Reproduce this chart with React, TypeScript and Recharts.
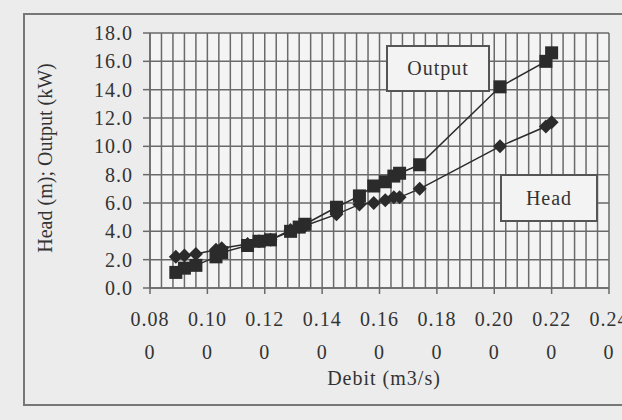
import { CartesianGrid, Line, LineChart, XAxis, YAxis } from 'recharts'

// debit (m3/s), head (m) and output (kW) at each debit
const debit = [0.089, 0.092, 0.096, 0.103, 0.105, 0.114, 0.118, 0.122, 0.129, 0.132, 0.134, 0.145, 0.153, 0.158, 0.162, 0.165, 0.167, 0.174, 0.202, 0.218, 0.22]
const output = [1.1, 1.4, 1.6, 2.2, 2.5, 3.0, 3.3, 3.4, 4.0, 4.3, 4.5, 5.7, 6.5, 7.2, 7.5, 7.9, 8.1, 8.7, 14.2, 16.0, 16.6]
const head = [2.2, 2.3, 2.4, 2.7, 2.8, 3.1, 3.3, 3.4, 4.1, 4.3, 4.4, 5.2, 5.9, 6.0, 6.2, 6.4, 6.4, 7.0, 10.0, 11.4, 11.7]

const xMajor = [0.08, 0.1, 0.12, 0.14, 0.16, 0.18, 0.2, 0.22, 0.24]
const yTicks = [0, 2, 4, 6, 8, 10, 12, 14, 16, 18]

// five minor divisions between each labelled debit tick
const xTicks = xMajor.flatMap((v, i) =>
  i === xMajor.length - 1 ? [v] : [0, 1, 2, 3, 4].map((k) => +(v + (k * (xMajor[i + 1] - v)) / 5).toFixed(4))
)

const data = debit.map((d, i) => ({ debit: d, output: output[i], head: head[i] }))

const INK = '#2b2b2b'
const GRID = '#6a6a6a'
const PLOT_BOTTOM = 288
const FONT = '"Liberation Serif", "Times New Roman", serif'

const isMajor = (v: number) => xMajor.some((m) => Math.abs(m - v) < 1e-6)

const XTick = ({ x, payload }: any) => {
  if (!isMajor(payload.value)) return null
  const s = payload.value.toFixed(3)
  return (
    <g>
      <line x1={x} x2={x} y1={PLOT_BOTTOM} y2={PLOT_BOTTOM + 6} stroke={GRID} strokeWidth={1.5} />
      <text x={x} textAnchor="middle" fontFamily={FONT} fontSize={20} letterSpacing={1} fill="#333">
        <tspan x={x} y={326}>{s.slice(0, 4)}</tspan>
        <tspan x={x} y={359}>{s.slice(4)}</tspan>
      </text>
    </g>
  )
}

const Square = ({ cx, cy }: any) => (
  <rect x={cx - 6.5} y={cy - 6.5} width={13} height={13} fill={INK} />
)

const Diamond = ({ cx, cy }: any) => (
  <path d={`M${cx},${cy - 7}L${cx + 7},${cy}L${cx},${cy + 7}L${cx - 7},${cy}Z`} fill={INK} />
)

const box: React.CSSProperties = {
  position: 'absolute',
  border: '2px solid #555',
  background: '#f3f3f3',
  fontFamily: FONT,
  fontSize: 20,
  letterSpacing: 1,
  color: '#333',
  display: 'flex',
  alignItems: 'center',
  justifyContent: 'center',
  boxSizing: 'border-box',
}

export default function App() {
  return (
    <div style={{ position: 'relative', width: 640, height: 420, background: '#ececec', overflow: 'hidden' }}>
      <style>{'body{margin:0;overflow:hidden;background:#ececec}'}</style>
      <div
        style={{
          position: 'absolute',
          left: 23,
          top: 13,
          width: 640,
          height: 393,
          border: '2px solid #777',
          boxSizing: 'border-box',
        }}
      />
      <div style={{ position: 'absolute', left: 0, top: 0 }}>
        <LineChart width={640} height={420} data={data} margin={{ top: 33, right: 31, bottom: 72, left: 90 }}>
          <CartesianGrid stroke={GRID} strokeWidth={1.5} fill="#f4f4f4" fillOpacity={1} />
          <XAxis
            type="number"
            dataKey="debit"
            domain={[0.08, 0.24]}
            ticks={xTicks}
            interval={0}
            tick={<XTick />}
            tickLine={false}
            axisLine={{ stroke: GRID, strokeWidth: 1.5 }}
            height={60}
          />
          <YAxis
            type="number"
            domain={[0, 18]}
            ticks={yTicks}
            interval={0}
            width={60}
            tickSize={7}
            tickMargin={10}
            tickLine={{ stroke: GRID, strokeWidth: 1.5 }}
            axisLine={{ stroke: GRID, strokeWidth: 1.5 }}
            tickFormatter={(v: number) => v.toFixed(1)}
            tick={{ fontFamily: FONT, fontSize: 20, fill: '#333', letterSpacing: 1 }}
          />
          <Line
            dataKey="output"
            stroke={INK}
            strokeWidth={1.5}
            dot={<Square />}
            activeDot={false}
            isAnimationActive={false}
          />
          <Line
            dataKey="head"
            stroke={INK}
            strokeWidth={1.5}
            dot={<Diamond />}
            activeDot={false}
            isAnimationActive={false}
          />
        </LineChart>
      </div>
      <div style={{ ...box, left: 386, top: 45, width: 104, height: 47 }}>Output</div>
      <div style={{ ...box, left: 500, top: 174, width: 98, height: 48 }}>Head</div>
      <div
        style={{
          position: 'absolute',
          left: 384,
          top: 388,
          transform: 'translate(-50%, -100%)',
          fontFamily: FONT,
          fontSize: 20,
          letterSpacing: 1,
          color: '#333',
          whiteSpace: 'nowrap',
          lineHeight: '20px',
        }}
      >
        Debit (m3/s)
      </div>
      <div
        style={{
          position: 'absolute',
          left: 45,
          top: 158,
          transform: 'translate(-50%, -50%) rotate(-90deg)',
          fontFamily: FONT,
          fontSize: 20,
          color: '#333',
          whiteSpace: 'nowrap',
        }}
      >
        Head (m); Output (kW)
      </div>
    </div>
  )
}
